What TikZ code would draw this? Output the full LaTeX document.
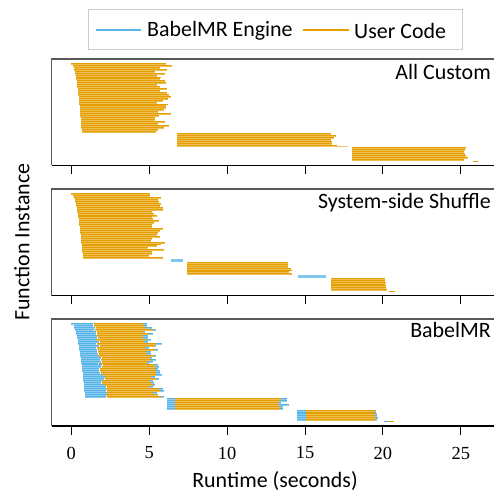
\documentclass[tikz,border=0pt]{standalone}
\usepackage{fontspec}
\setmainfont{Carlito}
\newfontfamily\numfont{Liberation Serif}
\definecolor{uc}{HTML}{E69F00}
\definecolor{be}{HTML}{56B4E9}
\tikzset{
  frametop/.style={draw=black!65, line width=1.1bp},
  framebot/.style={draw=black, line width=1.1bp},
  tickmark/.style={draw=black, line width=1bp},
  ticklabel/.style={font=\numfont\fontsize{18.5}{20}\selectfont},
  paneltitle/.style={anchor=east, inner sep=0pt},
}
% segment of a bar: {t0}{t1}{y}{colour}
\newcommand\segbar[4]{%
  \fill[#4!68!white] (#1,#3-0.97) rectangle (#2,#3+0.97);
  \fill[#4] (#1,#3-0.97) rectangle (#2,#3-0.2);
}
\begin{document}
\begin{tikzpicture}[x=1bp,y=-1bp,font=\fontsize{22}{25}\selectfont]
\useasboundingbox (0,0) rectangle (494,493);
\pgfmathsetseed{11}
% legend
\draw[gray!40, line width=1bp] (88,10) rectangle (462,50);
\coordinate (l1a) at (96,30); \coordinate (l1b) at (141,30);
\coordinate (l2a) at (303,30); \coordinate (l2b) at (349,30);
\draw[draw=be, line width=1.4bp] (l1a) -- (l1b);
\draw[draw=uc, line width=1.4bp] (l2a) -- (l2b);
\node[anchor=west, inner sep=0pt] (leg1) at (147,30.5) {BabelMR Engine};
\node[anchor=west, inner sep=0pt] (leg2) at (354,30.5) {User Code};
% frames and ticks
\foreach \tp/\bt in {59/165.5, 189/295.5, 319/426} {
  \draw[frametop] (494,\tp) -- (51.5,\tp) -- (51.5,\bt);
  \draw[framebot] (51.5,\bt) -- (494,\bt);
  \foreach \t in {0,5,...,25} \draw[tickmark] (71.3+15.58*\t,\bt) -- ++(0,8.5);
}
\foreach \t in {0,5,...,25} \node[ticklabel] (tl\t) at (71.3+15.58*\t,453) {\t};
\node[inner sep=0pt] (xl) at (275,480.5) {Runtime (seconds)};
\node[rotate=90] (yl) at (22,242) {Function Instance};
\node[paneltitle] (p1) at (491,72) {All Custom};
\node[paneltitle] (p2) at (491,203) {System-side Shuffle};
\node[paneltitle] (p3) at (491,330) {BabelMR};
% bars
\begin{scope}[xshift=71.3bp, x=15.58bp]
% ---- panel 1
\foreach \i in {0,...,35} {
  \pgfmathsetmacro\ya{64+\i*1.93}
  \pgfmathsetmacro\ts{0.67*sqrt(\i/35)}
  \pgfmathsetmacro\te{5.3+1.2*rnd}
  \segbar{\ts}{\te}{\ya}{uc}
}
\foreach \i in {0,...,6} {
  \pgfmathsetmacro\ya{134.3+\i*1.93}
  \pgfmathsetmacro\te{16.6+0.7*rnd}
  \segbar{6.77}{\te}{\ya}{uc}
}
\fill[uc!60!white] (6.77,146.2) rectangle (17.76,147.1);
\foreach \i in {0,...,6} {
  \pgfmathsetmacro\ya{148.3+\i*1.93}
  \pgfmathsetmacro\te{25.2+0.28*rnd}
  \segbar{18.0}{\te}{\ya}{uc}
}
\fill[uc] (25.76,161.4) rectangle (26.1,162.2);
% ---- panel 2
\foreach \i in {0,...,33} {
  \pgfmathsetmacro\ya{194.3+\i*1.93}
  \pgfmathsetmacro\ts{0.75*sqrt(\i/33)}
  \pgfmathsetmacro\te{4.9+1.25*rnd}
  \segbar{\ts}{\te}{\ya}{uc}
}
\fill[be!75!white] (6.38,259.2) rectangle (7.19,261.6);
\foreach \i in {0,...,6} {
  \pgfmathsetmacro\ya{262.8+\i*1.93}
  \pgfmathsetmacro\te{13.8+0.45*rnd}
  \segbar{7.4}{\te}{\ya}{uc}
}
\fill[be!75!white] (14.53,275.2) rectangle (16.33,277.6);
\foreach \i in {0,...,6} {
  \pgfmathsetmacro\ya{278.7+\i*1.93}
  \pgfmathsetmacro\te{20.1+0.2*rnd}
  \segbar{16.7}{\te}{\ya}{uc}
}
\fill[uc] (20.4,291.1) rectangle (20.8,292);
% ---- panel 3
\foreach \i in {0,...,37} {
  \pgfmathsetmacro\ya{324.3+\i*1.96}
  \pgfmathsetmacro\ts{0.88*sqrt(\i/37)}
  \pgfmathsetmacro\tb{1.3+0.75*(\i/37)+0.3*rnd}
  \pgfmathsetmacro\te{4.5+0.5*(\i/37)+0.8*rnd}
  \pgfmathsetmacro\tt{\te+0.08+0.3*rnd}
  \segbar{\ts}{\tb}{\ya}{be}
  \segbar{\tb+0.05}{\te}{\ya}{uc}
  \segbar{\te}{\tt}{\ya}{be}
}
\foreach \i in {0,...,5} {
  \pgfmathsetmacro\ya{399.3+\i*1.93}
  \pgfmathsetmacro\te{13.07+0.43*rnd}
  \pgfmathsetmacro\tt{\te+0.1+0.6*rnd}
  \segbar{6.12}{6.66}{\ya}{be}
  \segbar{6.66}{\te}{\ya}{uc}
  \segbar{\te}{\tt}{\ya}{be}
}
\foreach \i in {0,...,5} {
  \pgfmathsetmacro\ya{410.6+\i*1.93}
  \pgfmathsetmacro\te{19.4+0.2*rnd}
  \pgfmathsetmacro\tt{\te+0.05+0.1*rnd}
  \segbar{14.47}{15.06}{\ya}{be}
  \segbar{15.06}{\te}{\ya}{uc}
  \segbar{\te}{\tt}{\ya}{be}
}
\fill[be] (20.1,420.6) rectangle (20.35,421.5);
\fill[uc] (20.35,420.6) rectangle (20.7,421.5);
\end{scope}
\end{tikzpicture}
\end{document}
